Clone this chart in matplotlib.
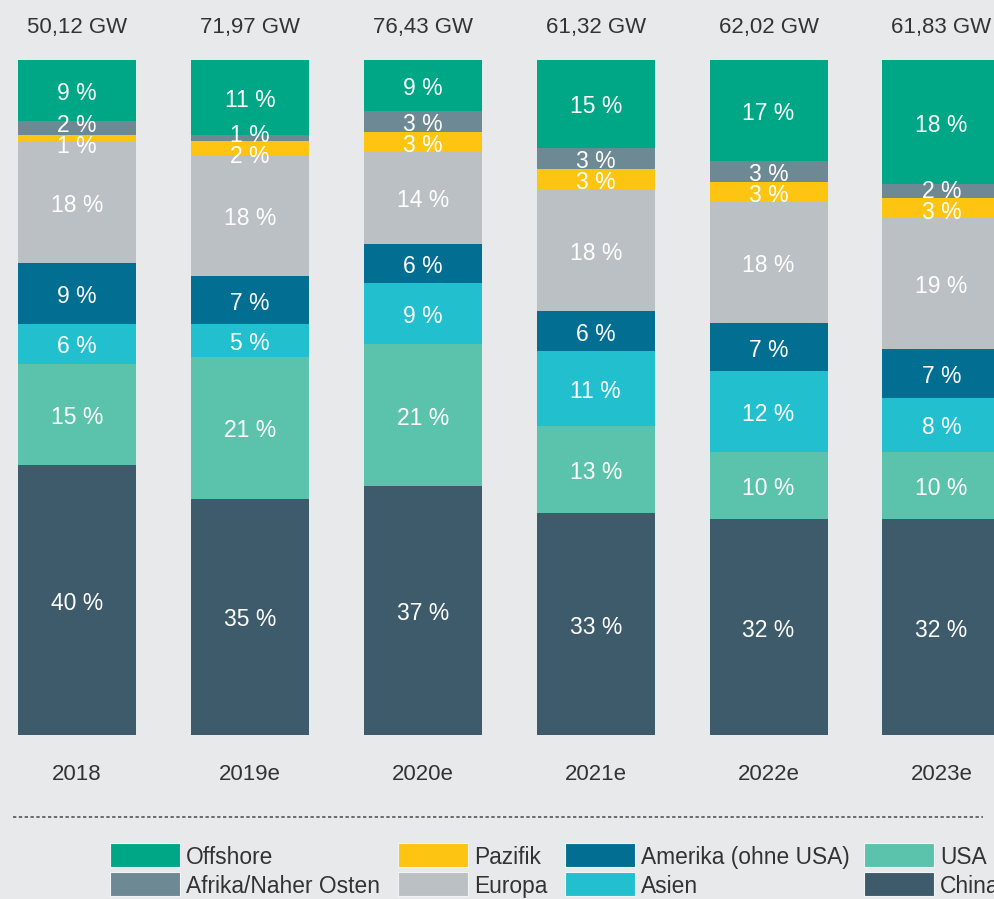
import numpy as np
import matplotlib
matplotlib.use('Agg')
import matplotlib.pyplot as plt
from matplotlib.patches import Rectangle

plt.rcParams['font.family'] = ['Liberation Sans', 'DejaVu Sans']

# data (shares in % of each year's total)
years = ['2018', '2019e', '2020e', '2021e', '2022e', '2023e']
totals = ['50,12 GW', '71,97 GW', '76,43 GW', '61,32 GW', '62,02 GW', '61,83 GW']

china = [40.0, 35.0, 36.9, 32.9, 32.0, 32.0]
usa = [15.0, 21.0, 21.0, 12.9, 9.9, 10.0]
asien = [5.9, 4.9, 9.0, 11.1, 12.0, 8.0]
amerika = [9.0, 7.1, 5.9, 5.9, 7.1, 7.2]
europa = [18.1, 17.9, 13.6, 18.1, 17.9, 19.4]
pazifik = [0.9, 2.1, 3.0, 3.0, 3.0, 3.0]
afrika = [2.1, 0.9, 3.0, 3.0, 3.1, 2.0]
offshore = [9.0, 11.1, 7.6, 13.2, 15.0, 18.4]
# printed offshore labels differ from the drawn heights
offshore_printed = [9, 11, 9, 15, 17, 18]

series = [
    ('China', china, '#3d5b6b'),
    ('USA', usa, '#5bc3ab'),
    ('Asien', asien, '#22bfcf'),
    ('Amerika (ohne USA)', amerika, '#016e92'),
    ('Europa', europa, '#bbc0c4'),
    ('Pazifik', pazifik, '#fec412'),
    ('Afrika/Naher Osten', afrika, '#6d8993'),
    ('Offshore', offshore, '#00a786'),
]
legend_cols = [['Offshore', 'Afrika/Naher Osten'], ['Pazifik', 'Europa'],
               ['Amerika (ohne USA)', 'Asien'], ['USA', 'China']]

bg = '#e8e9eb'
txt = '#333333'
W, H = 995, 899

fig = plt.figure(figsize=(W / 100, H / 100), dpi=100)
fig.patch.set_facecolor(bg)

# main axes: bar area from y=60px to y=735px
ax = fig.add_axes([0, (H - 735) / H, 1, 675 / H])
ax.set_facecolor(bg)
step = 172.9
x = np.arange(len(years))
ax.set_xlim(-77 / step, (W - 77) / step)
ax.set_ylim(0, 100)
for s in ax.spines.values():
    s.set_visible(False)
ax.set_xticks([])
ax.set_yticks([])

bottom = np.zeros(len(years))
centers = {}
for name, vals, col in series:
    vals = np.array(vals)
    ax.bar(x, vals, width=118 / step, bottom=bottom, color=col, linewidth=0)
    centers[name] = bottom + vals / 2
    bottom = bottom + vals

# label positions; spread the two thin segments if they collide
min_sep = 3.1
ypos = {k: v.copy() for k, v in centers.items()}
for i in range(len(years)):
    lo, hi = ypos['Pazifik'][i], ypos['Afrika/Naher Osten'][i]
    if hi - lo < min_sep:
        mid = (lo + hi) / 2
        ypos['Pazifik'][i] = mid - min_sep / 2
        ypos['Afrika/Naher Osten'][i] = mid + min_sep / 2

for name, vals, col in series:
    for i in range(len(years)):
        p = offshore_printed[i] if name == 'Offshore' else int(round(vals[i]))
        ax.annotate(f'{p} %', (x[i], ypos[name][i]), xytext=(0, -2.2),
                    textcoords='offset points', ha='center', va='center',
                    color='white', fontsize=16.5)

for i in range(len(years)):
    ax.annotate(totals[i], (x[i], 100), xytext=(0, 33 * 0.72), textcoords='offset points',
                ha='center', va='center', fontsize=16, color=txt)
    ax.annotate(years[i], (x[i], 0), xytext=(0, -39 * 0.72), textcoords='offset points',
                ha='center', va='center', fontsize=16, color=txt)

# overlay in pixel coordinates for separator and legend
lax = fig.add_axes([0, 0, 1, 1])
lax.set_xlim(0, W)
lax.set_ylim(H, 0)
lax.axis('off')
lax.patch.set_alpha(0)

lax.plot([13, 983], [816.5, 816.5], color='#555555', lw=1.2, ls=(0, (2, 1.5)))

colors = {name: col for name, vals, col in series}
col_x = [110, 398, 565, 864]
row_y = [855, 884]
for cx, names in zip(col_x, legend_cols):
    for cy, name in zip(row_y, names):
        lax.add_patch(Rectangle((cx, cy - 12), 70, 24, facecolor=colors[name],
                                edgecolor='#f2f3f4', lw=0.8))
        lax.text(cx + 76, cy + 2.5, name, ha='left', va='center', fontsize=16.4, color=txt)

fig.savefig('out.png', dpi=100, facecolor=bg)
